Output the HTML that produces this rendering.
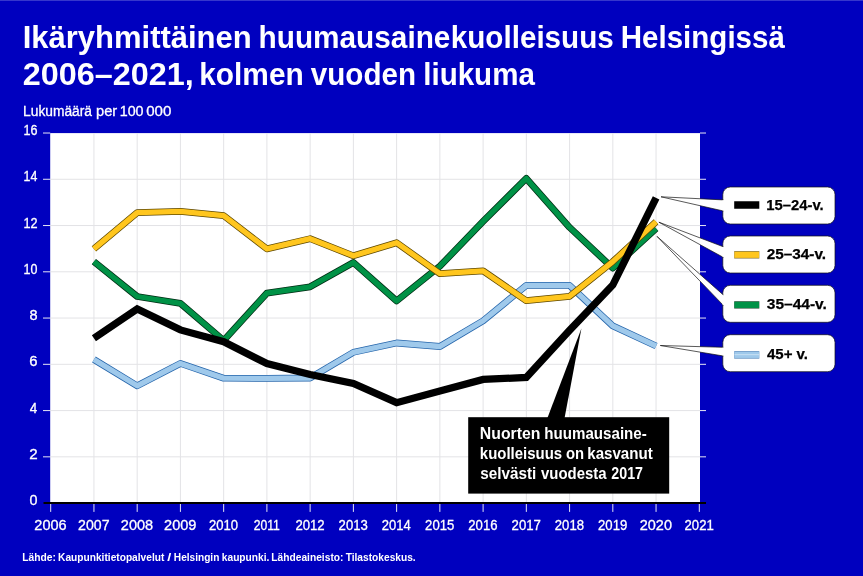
<!DOCTYPE html>
<html lang="fi"><head><meta charset="utf-8"><title>Ikäryhmittäinen huumausainekuolleisuus Helsingissä</title>
<style>html,body{margin:0;padding:0;background:#0000bf;}body{width:863px;height:576px;overflow:hidden;}svg{display:block;}text{font-family:"Liberation Sans",sans-serif;}</style>
</head><body>
<svg width="863" height="576" viewBox="0 0 863 576">
<rect x="0" y="0" width="863" height="576" fill="#0000bf"/>
<rect x="0" y="0" width="863" height="1" fill="#3636cc"/>
<text x="22.69" y="47.9" font-size="32.2" font-weight="bold" fill="#fff" textLength="229.01" lengthAdjust="spacingAndGlyphs">Ikäryhmittäinen</text>
<text y="47.9" font-size="32.2" font-weight="bold" fill="#fff"><tspan x="258.52" textLength="191.91" lengthAdjust="spacingAndGlyphs">huumausaine</tspan><tspan x="450.72" textLength="163.11" lengthAdjust="spacingAndGlyphs">kuolleisuus</tspan></text>
<text x="620.78" y="47.9" font-size="32.2" font-weight="bold" fill="#fff" textLength="164.07" lengthAdjust="spacingAndGlyphs">Helsingissä</text>
<text x="22.77" y="84.9" font-size="32.2" font-weight="bold" fill="#fff" textLength="171.05" lengthAdjust="spacingAndGlyphs">2006–2021,</text>
<text x="199.21" y="84.9" font-size="32.2" font-weight="bold" fill="#fff" textLength="104.61" lengthAdjust="spacingAndGlyphs">kolmen</text>
<text x="310.85" y="84.9" font-size="32.2" font-weight="bold" fill="#fff" textLength="105.15" lengthAdjust="spacingAndGlyphs">vuoden</text>
<text x="423.23" y="84.9" font-size="32.2" font-weight="bold" fill="#fff" textLength="111.64" lengthAdjust="spacingAndGlyphs">liukuma</text>
<text x="23.10" y="115.5" font-size="14" stroke="#fff" stroke-width="0.3" fill="#fff" textLength="68.95" lengthAdjust="spacingAndGlyphs">Lukumäärä</text>
<text x="96.05" y="115.5" font-size="14" stroke="#fff" stroke-width="0.3" fill="#fff" textLength="21.18" lengthAdjust="spacingAndGlyphs">per</text>
<text x="119.68" y="115.5" font-size="14" stroke="#fff" stroke-width="0.3" fill="#fff" textLength="23.87" lengthAdjust="spacingAndGlyphs">100</text>
<text x="146.15" y="115.5" font-size="14" stroke="#fff" stroke-width="0.3" fill="#fff" textLength="25.19" lengthAdjust="spacingAndGlyphs">000</text>
<rect x="50.2" y="133.1" width="649.8" height="370.0" fill="#fff"/>
<path d="M93.94 133.1V503.1M137.18 133.1V503.1M180.42 133.1V503.1M223.66 133.1V503.1M266.90 133.1V503.1M310.14 133.1V503.1M353.38 133.1V503.1M396.62 133.1V503.1M439.86 133.1V503.1M483.10 133.1V503.1M526.34 133.1V503.1M569.58 133.1V503.1M612.82 133.1V503.1M656.06 133.1V503.1M50.2 456.84H700.0M50.2 410.58H700.0M50.2 364.32H700.0M50.2 318.06H700.0M50.2 271.80H700.0M50.2 225.54H700.0M50.2 179.28H700.0" stroke="#e3e3e6" stroke-width="1" fill="none"/>
<path d="M43 456.84H50.2M700.0 456.84H706M43 410.58H50.2M700.0 410.58H706M43 364.32H50.2M700.0 364.32H706M43 318.06H50.2M700.0 318.06H706M43 271.80H50.2M700.0 271.80H706M43 225.54H50.2M700.0 225.54H706M43 179.28H50.2M700.0 179.28H706M43 133.02H50.2M700.0 133.02H706M50.70 503.5V511.9M93.94 503.5V511.9M137.18 503.5V511.9M180.42 503.5V511.9M223.66 503.5V511.9M266.90 503.5V511.9M310.14 503.5V511.9M353.38 503.5V511.9M396.62 503.5V511.9M439.86 503.5V511.9M483.10 503.5V511.9M526.34 503.5V511.9M569.58 503.5V511.9M612.82 503.5V511.9M656.06 503.5V511.9M699.30 503.5V511.9" stroke="#e6e6f5" stroke-width="1" fill="none"/>
<text x="29.52" y="505.1" font-size="14" stroke="#fff" stroke-width="0.3" fill="#fff" textLength="7.99" lengthAdjust="spacingAndGlyphs">0</text>
<text x="29.34" y="458.8" font-size="14" stroke="#fff" stroke-width="0.3" fill="#fff" textLength="8.43" lengthAdjust="spacingAndGlyphs">2</text>
<text x="29.83" y="412.6" font-size="14" stroke="#fff" stroke-width="0.3" fill="#fff" textLength="7.52" lengthAdjust="spacingAndGlyphs">4</text>
<text x="29.36" y="366.3" font-size="14" stroke="#fff" stroke-width="0.3" fill="#fff" textLength="8.25" lengthAdjust="spacingAndGlyphs">6</text>
<text x="29.52" y="320.1" font-size="14" stroke="#fff" stroke-width="0.3" fill="#fff" textLength="8.08" lengthAdjust="spacingAndGlyphs">8</text>
<text x="23.56" y="273.8" font-size="14" stroke="#fff" stroke-width="0.3" fill="#fff" textLength="13.90" lengthAdjust="spacingAndGlyphs">10</text>
<text x="23.55" y="227.5" font-size="14" stroke="#fff" stroke-width="0.3" fill="#fff" textLength="14.12" lengthAdjust="spacingAndGlyphs">12</text>
<text x="23.57" y="181.3" font-size="14" stroke="#fff" stroke-width="0.3" fill="#fff" textLength="13.77" lengthAdjust="spacingAndGlyphs">14</text>
<text x="23.56" y="135.0" font-size="14" stroke="#fff" stroke-width="0.3" fill="#fff" textLength="13.97" lengthAdjust="spacingAndGlyphs">16</text>
<text x="34.37" y="529.6" font-size="14.1" stroke="#fff" stroke-width="0.3" fill="#fff" textLength="32.30" lengthAdjust="spacingAndGlyphs">2006</text>
<text x="78.13" y="529.6" font-size="14.1" stroke="#fff" stroke-width="0.3" fill="#fff" textLength="31.41" lengthAdjust="spacingAndGlyphs">2007</text>
<text x="120.85" y="529.6" font-size="14.1" stroke="#fff" stroke-width="0.3" fill="#fff" textLength="32.30" lengthAdjust="spacingAndGlyphs">2008</text>
<text x="164.09" y="529.6" font-size="14.1" stroke="#fff" stroke-width="0.3" fill="#fff" textLength="32.38" lengthAdjust="spacingAndGlyphs">2009</text>
<text x="208.91" y="529.6" font-size="14.1" stroke="#fff" stroke-width="0.3" fill="#fff" textLength="29.11" lengthAdjust="spacingAndGlyphs">2010</text>
<text x="253.69" y="529.6" font-size="14.1" stroke="#fff" stroke-width="0.3" fill="#fff" textLength="26.16" lengthAdjust="spacingAndGlyphs">2011</text>
<text x="295.38" y="529.6" font-size="14.1" stroke="#fff" stroke-width="0.3" fill="#fff" textLength="29.31" lengthAdjust="spacingAndGlyphs">2012</text>
<text x="338.62" y="529.6" font-size="14.1" stroke="#fff" stroke-width="0.3" fill="#fff" textLength="29.18" lengthAdjust="spacingAndGlyphs">2013</text>
<text x="381.87" y="529.6" font-size="14.1" stroke="#fff" stroke-width="0.3" fill="#fff" textLength="28.97" lengthAdjust="spacingAndGlyphs">2014</text>
<text x="425.10" y="529.6" font-size="14.1" stroke="#fff" stroke-width="0.3" fill="#fff" textLength="29.18" lengthAdjust="spacingAndGlyphs">2015</text>
<text x="468.34" y="529.6" font-size="14.1" stroke="#fff" stroke-width="0.3" fill="#fff" textLength="29.18" lengthAdjust="spacingAndGlyphs">2016</text>
<text x="511.58" y="529.6" font-size="14.1" stroke="#fff" stroke-width="0.3" fill="#fff" textLength="29.31" lengthAdjust="spacingAndGlyphs">2017</text>
<text x="554.82" y="529.6" font-size="14.1" stroke="#fff" stroke-width="0.3" fill="#fff" textLength="29.18" lengthAdjust="spacingAndGlyphs">2018</text>
<text x="598.06" y="529.6" font-size="14.1" stroke="#fff" stroke-width="0.3" fill="#fff" textLength="29.24" lengthAdjust="spacingAndGlyphs">2019</text>
<text x="639.74" y="529.6" font-size="14.1" stroke="#fff" stroke-width="0.3" fill="#fff" textLength="32.23" lengthAdjust="spacingAndGlyphs">2020</text>
<text x="684.54" y="529.6" font-size="14.1" stroke="#fff" stroke-width="0.3" fill="#fff" textLength="29.24" lengthAdjust="spacingAndGlyphs">2021</text>
<polyline points="93.9,359.5 137.2,385.8 180.4,363.4 223.7,378.2 266.9,378.4 310.1,378.0 353.4,352.3 396.6,343.0 439.9,346.5 483.1,320.8 526.3,285.4 569.6,285.4 612.8,325.9 656.1,346.0" fill="none" stroke="#2565ab" stroke-width="6.8" stroke-linejoin="round" stroke-linecap="butt"/>
<polyline points="93.9,359.5 137.2,385.8 180.4,363.4 223.7,378.2 266.9,378.4 310.1,378.0 353.4,352.3 396.6,343.0 439.9,346.5 483.1,320.8 526.3,285.4 569.6,285.4 612.8,325.9 656.1,346.0" fill="none" stroke="#9fc9eb" stroke-width="5.3" stroke-linejoin="round" stroke-linecap="butt"/>
<polyline points="93.9,261.6 137.2,296.5 180.4,303.3 223.7,340.5 266.9,293.1 310.1,286.8 353.4,262.5 396.6,300.9 439.9,266.2 483.1,221.4 526.3,178.4 569.6,227.4 612.8,268.1 656.1,228.5" fill="none" stroke="#002d14" stroke-width="6.8" stroke-linejoin="round" stroke-linecap="butt"/>
<polyline points="93.9,261.6 137.2,296.5 180.4,303.3 223.7,340.5 266.9,293.1 310.1,286.8 353.4,262.5 396.6,300.9 439.9,266.2 483.1,221.4 526.3,178.4 569.6,227.4 612.8,268.1 656.1,228.5" fill="none" stroke="#009246" stroke-width="5.3" stroke-linejoin="round" stroke-linecap="butt"/>
<polyline points="93.9,248.9 137.2,212.6 180.4,211.4 223.7,215.6 266.9,248.9 310.1,238.7 353.4,255.8 396.6,242.7 439.9,273.7 483.1,270.9 526.3,300.7 569.6,296.3 612.8,261.6 656.1,221.8" fill="none" stroke="#5e4800" stroke-width="6.8" stroke-linejoin="round" stroke-linecap="butt"/>
<polyline points="93.9,248.9 137.2,212.6 180.4,211.4 223.7,215.6 266.9,248.9 310.1,238.7 353.4,255.8 396.6,242.7 439.9,273.7 483.1,270.9 526.3,300.7 569.6,296.3 612.8,261.6 656.1,221.8" fill="none" stroke="#ffc61e" stroke-width="5.3" stroke-linejoin="round" stroke-linecap="butt"/>
<polyline points="93.9,338.2 137.2,309.0 180.4,329.9 223.7,341.7 266.9,363.6 310.1,374.5 353.4,383.5 396.6,402.7 439.9,390.9 483.1,379.4 526.3,377.5 569.6,330.3 612.8,285.0 656.1,197.8" fill="none" stroke="#000000" stroke-width="7.3" stroke-linejoin="miter" stroke-linecap="butt"/>
<path d="M43.5 503.05H706" stroke="#000" stroke-width="2" fill="none"/>
<path d="M547.4 418L581.4 328.6L564.6 418Z" fill="#000"/>
<rect x="468.2" y="417.2" width="201" height="76.4" fill="#000"/>
<text x="479.87" y="439.4" font-size="16" font-weight="bold" fill="#fff" textLength="60.52" lengthAdjust="spacingAndGlyphs">Nuorten</text>
<text x="544.34" y="439.4" font-size="16" font-weight="bold" fill="#fff" textLength="102.45" lengthAdjust="spacingAndGlyphs">huumausaine-</text>
<text x="479.85" y="459.0" font-size="16" font-weight="bold" fill="#fff" textLength="82.27" lengthAdjust="spacingAndGlyphs">kuolleisuus</text>
<text x="566.01" y="459.0" font-size="16" font-weight="bold" fill="#fff" textLength="18.11" lengthAdjust="spacingAndGlyphs">on</text>
<text x="587.24" y="459.0" font-size="16" font-weight="bold" fill="#fff" textLength="65.52" lengthAdjust="spacingAndGlyphs">kasvanut</text>
<text x="480.37" y="478.8" font-size="16" font-weight="bold" fill="#fff" textLength="56.00" lengthAdjust="spacingAndGlyphs">selvästi</text>
<text x="541.03" y="478.8" font-size="16" font-weight="bold" fill="#fff" textLength="65.53" lengthAdjust="spacingAndGlyphs">vuodesta</text>
<text x="611.30" y="478.8" font-size="16" font-weight="bold" fill="#fff" textLength="31.66" lengthAdjust="spacingAndGlyphs">2017</text>
<rect x="722.8" y="187.0" width="112.2" height="37.0" rx="7.5" ry="7.5" fill="#fff" stroke="#111" stroke-width="0.7"/>
<path d="M723.4 199.9L661.0 196.8L723.4 211.0" fill="#fff" stroke="#111" stroke-width="0.7" stroke-linejoin="miter"/>
<path d="M723.5 200.20000000000002V210.5" stroke="#fff" stroke-width="2" fill="none"/>
<rect x="734.2" y="201.25" width="25.1" height="7.5" fill="#000000"/>
<text x="766.31" y="209.7" font-size="14.6" font-weight="bold" stroke="#000" stroke-width="0.25" fill="#000" textLength="57.41" lengthAdjust="spacingAndGlyphs">15–24-v.</text>
<rect x="722.8" y="236.0" width="112.2" height="37.0" rx="7.5" ry="7.5" fill="#fff" stroke="#111" stroke-width="0.7"/>
<path d="M723.4 246.8L658.9 222.2L723.4 257.4" fill="#fff" stroke="#111" stroke-width="0.7" stroke-linejoin="miter"/>
<path d="M723.5 247.10000000000002V256.9" stroke="#fff" stroke-width="2" fill="none"/>
<rect x="734.2" y="251.05" width="25.1" height="7.5" fill="#5e4800" opacity="0.75"/>
<rect x="734.4" y="251.75" width="24.7" height="6.1" fill="#ffc61e"/>
<text x="766.66" y="258.8" font-size="14.6" font-weight="bold" stroke="#000" stroke-width="0.25" fill="#000" textLength="59.39" lengthAdjust="spacingAndGlyphs">25–34-v.</text>
<rect x="722.8" y="285.3" width="112.2" height="37.0" rx="7.5" ry="7.5" fill="#fff" stroke="#111" stroke-width="0.7"/>
<path d="M723.4 295.0L657.0 236.4L723.4 305.4" fill="#fff" stroke="#111" stroke-width="0.7" stroke-linejoin="miter"/>
<path d="M723.5 295.3V304.9" stroke="#fff" stroke-width="2" fill="none"/>
<rect x="734.2" y="301.15" width="25.1" height="7.5" fill="#002d14" opacity="0.75"/>
<rect x="734.4" y="301.85" width="24.7" height="6.1" fill="#009246"/>
<text x="766.81" y="309.1" font-size="14.6" font-weight="bold" stroke="#000" stroke-width="0.25" fill="#000" textLength="60.05" lengthAdjust="spacingAndGlyphs">35–44-v.</text>
<rect x="722.8" y="334.7" width="112.2" height="37.0" rx="7.5" ry="7.5" fill="#fff" stroke="#111" stroke-width="0.7"/>
<path d="M723.4 347.3L660.3 345.5L723.4 356.0" fill="#fff" stroke="#111" stroke-width="0.7" stroke-linejoin="miter"/>
<path d="M723.5 347.6V355.5" stroke="#fff" stroke-width="2" fill="none"/>
<rect x="734.2" y="351.15" width="25.1" height="7.5" fill="#2565ab" opacity="0.75"/>
<rect x="734.4" y="351.85" width="24.7" height="6.1" fill="#9fc9eb"/>
<rect x="734.4" y="354.00" width="24.7" height="1.2" fill="#fff" opacity="0.35"/>
<text x="766.97" y="359.3" font-size="14.6" font-weight="bold" stroke="#000" stroke-width="0.25" fill="#000" textLength="41.06" lengthAdjust="spacingAndGlyphs">45+ v.</text>
<text x="22.33" y="560.6" font-size="11.2" font-weight="bold" fill="#fff" textLength="33.62" lengthAdjust="spacingAndGlyphs">Lähde:</text>
<text x="58.09" y="560.6" font-size="11.2" font-weight="bold" fill="#fff" textLength="106.27" lengthAdjust="spacingAndGlyphs">Kaupunkitietopalvelut</text>
<text x="167.36" y="560.6" font-size="11.2" font-weight="bold" fill="#fff" textLength="4.01" lengthAdjust="spacingAndGlyphs">/</text>
<text x="173.84" y="560.6" font-size="11.2" font-weight="bold" fill="#fff" textLength="45.52" lengthAdjust="spacingAndGlyphs">Helsingin</text>
<text x="221.79" y="560.6" font-size="11.2" font-weight="bold" fill="#fff" textLength="47.65" lengthAdjust="spacingAndGlyphs">kaupunki.</text>
<text x="271.34" y="560.6" font-size="11.2" font-weight="bold" fill="#fff" textLength="72.10" lengthAdjust="spacingAndGlyphs">Lähdeaineisto:</text>
<text x="345.65" y="560.6" font-size="11.2" font-weight="bold" fill="#fff" textLength="70.06" lengthAdjust="spacingAndGlyphs">Tilastokeskus.</text>
</svg>
</body></html>
